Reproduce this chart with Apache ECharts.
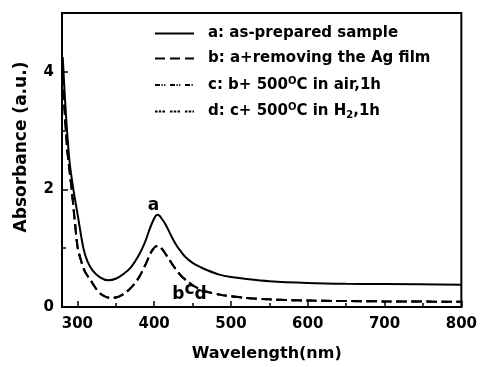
<!DOCTYPE html>
<html>
<head>
<meta charset="utf-8">
<script src="https://cdn.jsdelivr.net/npm/echarts@6/dist/echarts.min.js"></script>
<style>html,body{margin:0;padding:0;background:#fff;}#c{width:480px;height:367px;}</style>
</head>
<body>
<div id="c"></div>
<script>
// ---- data ----
const wavelengthA = [281,283,286,290,294.8,300,307.7,313,320,330,340,350,360,370,380,388,394,399,402,404,407,410,415,420,425,430,435,440,450,460,470,485,500,518,550,600,650,700,800];
const absorbA     = [4.25,3.75,3.1,2.45,2.0,1.6,1.01,0.78,0.62,0.5,0.455,0.48,0.56,0.68,0.88,1.1,1.32,1.48,1.55,1.57,1.55,1.5,1.4,1.27,1.14,1.03,0.94,0.86,0.75,0.68,0.62,0.55,0.51,0.48,0.44,0.41,0.395,0.39,0.38];

const wavelengthBCD = [281,283.6,287,292.6,296,300.4,305,310,318,325,333,343,350,360,370,380,389,396,401,405,410,415,420,425,430,436,443,450,460,471,490,518,550,600,700,800];
const absorbB = [3.95,3.3,2.65,2.0,1.55,1.01,0.78,0.6,0.44,0.3,0.2,0.155,0.16,0.22,0.33,0.5,0.73,0.93,1.02,1.04,0.99,0.9,0.8,0.7,0.61,0.52,0.44,0.37,0.3,0.25,0.2,0.157,0.13,0.11,0.095,0.09];
const absorbC = [3.95,3.3,2.65,2.0,1.55,1.01,0.78,0.6,0.44,0.3,0.2,0.155,0.16,0.22,0.33,0.5,0.73,0.93,1.02,1.04,0.99,0.9,0.8,0.7,0.61,0.52,0.44,0.37,0.3,0.25,0.2,0.157,0.13,0.11,0.095,0.09];
const absorbD = [3.95,3.3,2.65,2.0,1.55,1.01,0.78,0.6,0.44,0.3,0.2,0.155,0.16,0.22,0.33,0.5,0.73,0.93,1.02,1.04,0.99,0.9,0.8,0.7,0.61,0.52,0.44,0.37,0.3,0.25,0.2,0.157,0.13,0.11,0.095,0.09];

const seriesNames = ['a','b','c','d'];
const legendTexts = {
  a: '{t|a: as-prepared sample}',
  b: '{t|b: a+removing the Ag film}',
  c: '{t|c: b+ 500}{sup|O}{t|C in air,1h}',
  d: '{t|d: c+ 500}{sup|O}{t|C in H}{sub|2}{t|,1h}'
};

const xMajorTicks = [300,400,500,600,700,800];
const xMinorTicks = [350,450,550,650,750];
const yMajorTicks = [0,2,4];
const yMinorTicks = [1,3];

const peakLabelA = {text:'a', x:399, y:1.72};
const peakLabelBCD = {x:446, y:0.25};

function zip(xs, ys){ return xs.map((x,i)=>[x, ys[i]]); }

const FONT = '"DejaVu Sans", sans-serif';
const chart = echarts.init(document.getElementById('c'), null, {renderer:'canvas'});

const baseX = {
  type:'value', min:280, max:800, position:'bottom',
  axisLine:{show:true, lineStyle:{color:'#000', width:2}},
  splitLine:{show:false}
};
const baseY = {
  type:'value', min:0, max:5, position:'left',
  axisLine:{show:true, lineStyle:{color:'#000', width:2}},
  splitLine:{show:false}
};

const option = {
  animation:false,
  backgroundColor:'#fff',
  grid:{left:62, right:15, top:13, bottom:56, show:true, borderColor:'#000', borderWidth:2, backgroundColor:'transparent'},
  legend:{
    orient:'vertical', left:154, top:26, padding:0,
    itemWidth:39, itemHeight:14, itemGap:10,
    data:seriesNames,
    itemStyle:{opacity:0},
    formatter: n => legendTexts[n],
    textStyle:{
      padding:[0,0,0,9],
      rich:{
        t:{fontFamily:FONT, fontWeight:'bold', fontSize:15, color:'#000', lineHeight:18},
        sup:{fontFamily:FONT, fontWeight:'bold', fontSize:10, color:'#000', verticalAlign:'top', lineHeight:10},
        sub:{fontFamily:FONT, fontWeight:'bold', fontSize:10, color:'#000', verticalAlign:'bottom', lineHeight:10, padding:[8,0,0,0]}
      }
    }
  },
  xAxis:[
    Object.assign({}, baseX, {
      name:'Wavelength(nm)', nameLocation:'middle', nameGap:39,
      nameTextStyle:{fontFamily:FONT, fontWeight:'bold', fontSize:16, color:'#000', padding:[0,0,0,10]},
      axisTick:{show:true, inside:true, length:6, lineStyle:{color:'#000', width:1.5}, customValues:xMajorTicks},
      axisLabel:{show:true, margin:10, fontFamily:FONT, fontWeight:'bold', fontSize:15, color:'#000', customValues:xMajorTicks}
    }),
    Object.assign({}, baseX, {
      axisTick:{show:true, inside:true, length:4, lineStyle:{color:'#000', width:1.5}, customValues:xMinorTicks},
      axisLabel:{show:false}
    })
  ],
  yAxis:[
    Object.assign({}, baseY, {
      name:'Absorbance (a.u.)', nameLocation:'middle', nameGap:32,
      nameTextStyle:{fontFamily:FONT, fontWeight:'bold', fontSize:17, color:'#000', padding:[0,0,0,26]},
      axisTick:{show:true, inside:true, length:6, lineStyle:{color:'#000', width:1.5}, customValues:yMajorTicks},
      axisLabel:{show:true, margin:8, fontFamily:FONT, fontWeight:'bold', fontSize:15, color:'#000', customValues:yMajorTicks}
    }),
    Object.assign({}, baseY, {
      axisTick:{show:true, inside:true, length:4, lineStyle:{color:'#000', width:1.5}, customValues:yMinorTicks},
      axisLabel:{show:false}
    })
  ],
  series:[
    {
      name:'a', type:'line', smooth:0.3, symbol:'none', data:zip(wavelengthA, absorbA),
      lineStyle:{color:'#000', width:2, type:'solid'}, itemStyle:{color:'#000'},
      markPoint:{
        symbol:'rect', symbolSize:1, itemStyle:{color:'rgba(0,0,0,0)'},
        label:{show:true, position:'inside', formatter:peakLabelA.text, fontFamily:FONT, fontWeight:'bold', fontSize:17, color:'#000'},
        data:[{coord:[peakLabelA.x, peakLabelA.y]}]
      }
    },
    {
      name:'b', type:'line', smooth:0.3, symbol:'none', data:zip(wavelengthBCD, absorbB),
      lineStyle:{color:'#000', width:2, type:[10,5]}, itemStyle:{color:'#000'},
      markPoint:{
        symbol:'rect', symbolSize:1, itemStyle:{color:'rgba(0,0,0,0)'},
        label:{show:true, position:'inside', formatter:'{b|b}{c|c}{d|d}',
          rich:{
            b:{fontFamily:FONT, fontWeight:'bold', fontSize:17, color:'#000', lineHeight:22, verticalAlign:'bottom'},
            c:{fontFamily:FONT, fontWeight:'bold', fontSize:17, color:'#000', lineHeight:22, verticalAlign:'bottom', padding:[0,0,5,0]},
            d:{fontFamily:FONT, fontWeight:'bold', fontSize:17, color:'#000', lineHeight:22, verticalAlign:'bottom'}
          }},
        data:[{coord:[peakLabelBCD.x, peakLabelBCD.y]}]
      }
    },
    {
      name:'c', type:'line', smooth:0.3, symbol:'none', data:zip(wavelengthBCD, absorbC),
      lineStyle:{color:'#000', width:2, type:[5,1.5,1.2,1.5,1.2,4.6]}, itemStyle:{color:'#000'}
    },
    {
      name:'d', type:'line', smooth:0.3, symbol:'none', data:zip(wavelengthBCD, absorbD),
      lineStyle:{color:'#000', width:2, type:[2.5,1.25,2.5,1.25,2.5,5]}, itemStyle:{color:'#000'}
    }
  ]
};
chart.setOption(option);
</script>
</body>
</html>
